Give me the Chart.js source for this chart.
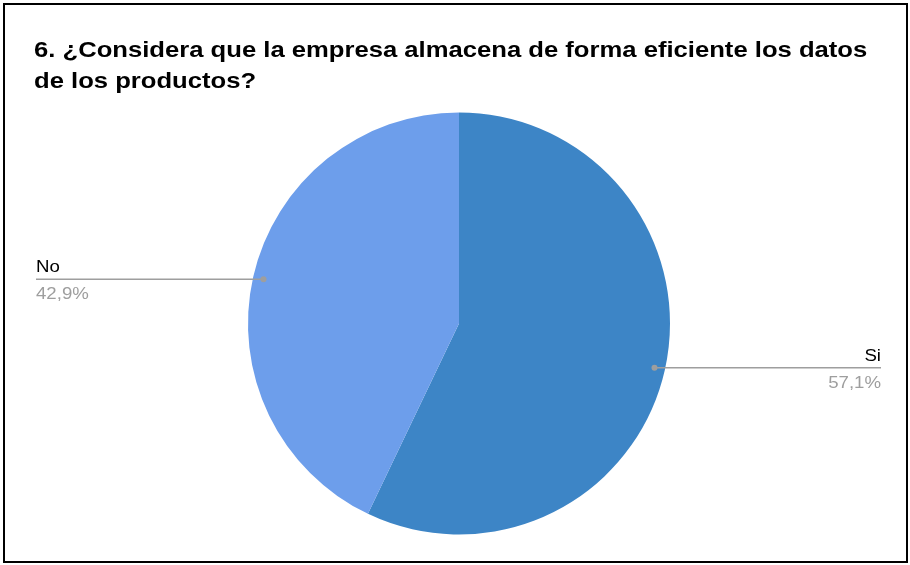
<!DOCTYPE html>
<html>
<head>
<meta charset="utf-8">
<script src="https://cdn.jsdelivr.net/npm/chart.js@4.4.1/dist/chart.umd.min.js"></script>
<style>
  html, body { margin: 0; padding: 0; background: #fff; }
  canvas { display: block; }
</style>
</head>
<body>
<canvas id="pie" width="910" height="565"></canvas>
<script>
const titleLines = ['6. ¿Considera que la empresa almacena de forma eficiente los datos', 'de los productos?'];
const categories = ['Si', 'No'];
const percentages = [57.1, 42.9];
const sliceColors = ['#3d85c6', '#6d9eeb'];

const ctx = document.getElementById('pie').getContext('2d');
const TEXT_STRETCH = 1.165;

// Texto ensanchado horizontalmente
function wideText(c, text, x, y, align) {
    c.save();
    c.translate(x, y);
    c.scale(TEXT_STRETCH, 1);
    c.textAlign = align;
    c.fillText(text, 0, 0);
    c.restore();
}

// Marco negro y título en negrita
const framePlugin = {
    id: 'frame',
    beforeDraw(chart) {
        const c = chart.ctx;
        c.save();
        c.fillStyle = '#fff';
        c.fillRect(0, 0, chart.width, chart.height);
        c.restore();
    },
    afterDraw(chart) {
        const c = chart.ctx;
        c.save();
        c.strokeStyle = '#000';
        c.lineWidth = 2;
        c.strokeRect(4, 4, 903, 558);
        c.fillStyle = '#000';
        c.font = 'bold 22px "Liberation Sans", Arial, sans-serif';
        c.textBaseline = 'alphabetic';
        wideText(c, titleLines[0], 34, 57, 'left');
        wideText(c, titleLines[1], 34, 88, 'left');
        c.restore();
    }
};

// Etiquetas con línea guía hacia cada porción
const calloutPlugin = {
    id: 'callouts',
    afterDatasetsDraw(chart) {
        const c = chart.ctx;
        const meta = chart.getDatasetMeta(0);
        c.save();
        meta.data.forEach((arc, i) => {
            const p = arc.getProps(['x', 'y', 'startAngle', 'endAngle', 'outerRadius'], true);
            const mid = (p.startAngle + p.endAngle) / 2;
            const r = p.outerRadius * 0.95;
            const dx = p.x + Math.cos(mid) * r;
            const dy = p.y + Math.sin(mid) * r;
            const right = Math.cos(mid) >= 0;
            const endX = right ? 881 : 36;

            c.strokeStyle = '#9e9e9e';
            c.lineWidth = 1.5;
            c.beginPath();
            c.moveTo(dx, dy);
            c.lineTo(endX, dy);
            c.stroke();
            c.fillStyle = '#9e9e9e';
            c.beginPath();
            c.arc(dx, dy, 3, 0, Math.PI * 2);
            c.fill();

            const align = right ? 'right' : 'left';
            c.font = '16px "Liberation Sans", Arial, sans-serif';
            c.fillStyle = '#000';
            wideText(c, categories[i], endX, dy - 7, align);
            c.fillStyle = '#9e9e9e';
            wideText(c, percentages[i].toFixed(1).replace('.', ',') + '%', endX, dy + 20, align);
        });
        c.restore();
    }
};

new Chart(ctx, {
    type: 'pie',
    data: {
        labels: categories,
        datasets: [{
            data: percentages,
            backgroundColor: sliceColors,
            borderWidth: 0
        }]
    },
    options: {
        responsive: false,
        animation: false,
        devicePixelRatio: 1,
        layout: { padding: { left: 248, right: 240, top: 112, bottom: 30 } },
        plugins: {
            legend: { display: false },
            tooltip: { enabled: false }
        }
    },
    plugins: [framePlugin, calloutPlugin]
});
</script>
</body>
</html>
